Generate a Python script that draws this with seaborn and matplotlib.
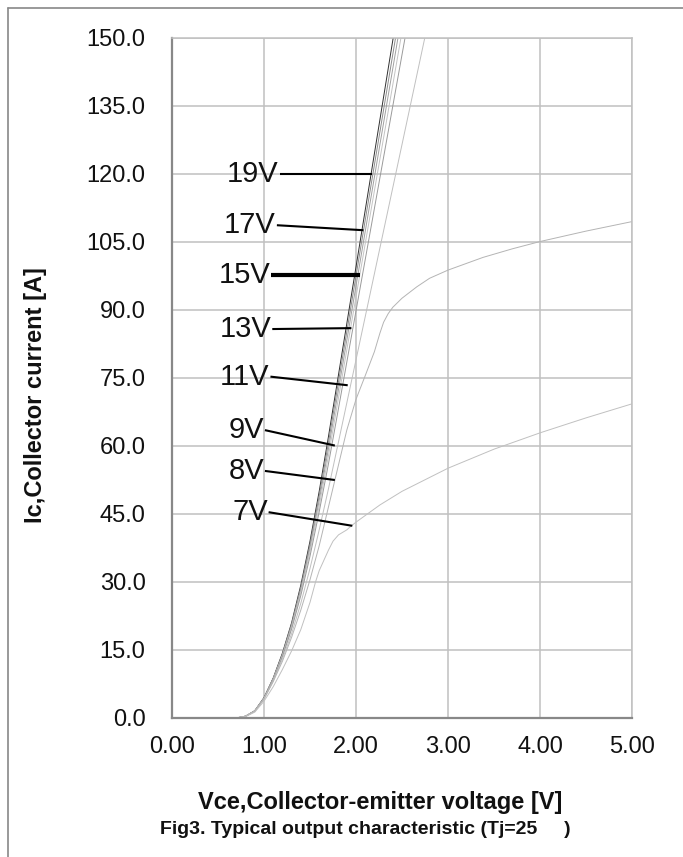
import matplotlib
matplotlib.use("Agg")
import matplotlib.pyplot as plt
import seaborn as sns
import pandas as pd
from matplotlib.lines import Line2D

# Output characteristic curves: Vce [V] -> Ic [A], one curve per gate voltage
vce_steep = [0.70, 0.80, 0.90, 1.00, 1.10, 1.20, 1.30, 1.40, 1.50, 1.60,
             1.70, 1.80, 1.90, 2.00, 2.10, 2.20, 2.30, 2.40, 2.50, 2.60,
             2.70, 2.80]
ic_19v = [0, 0.4, 1.6, 4.5, 8.8, 14.3, 21.0, 29.3, 39.0, 50.0, 62.0, 74.5,
          87.0, 99.5, 112.0, 124.5, 137.0, 149.5, 162.0]
ic_17v = [0, 0.4, 1.6, 4.4, 8.7, 14.1, 20.7, 28.8, 38.3, 49.0, 60.7, 73.0,
          85.2, 97.5, 109.8, 122.0, 134.2, 146.4, 158.6]
ic_15v = [0, 0.4, 1.6, 4.4, 8.6, 13.9, 20.4, 28.3, 37.5, 48.0, 59.3, 71.3,
          83.3, 95.3, 107.3, 119.3, 131.3, 143.3, 155.3]
ic_13v = [0, 0.4, 1.5, 4.3, 8.5, 13.7, 20.0, 27.7, 36.7, 46.8, 57.8, 69.5,
          81.2, 92.9, 104.6, 116.3, 128.0, 139.7, 151.4]
ic_11v = [0, 0.4, 1.5, 4.3, 8.4, 13.5, 19.6, 27.0, 35.7, 45.5, 56.0, 67.2,
          78.5, 89.8, 101.1, 112.4, 123.7, 135.0, 146.3, 157.6]
ic_9v = [0, 0.4, 1.5, 4.2, 8.2, 13.0, 18.6, 25.3, 33.0, 41.5, 50.5, 60.0,
         69.5, 79.0, 88.5, 98.0, 107.5, 117.0, 126.5, 136.0, 145.5, 155.0]

vce_8v = [0.70, 0.80, 0.90, 1.00, 1.10, 1.20, 1.30, 1.40, 1.50, 1.60, 1.70,
          1.80, 1.90, 2.00, 2.10, 2.20, 2.26, 2.30, 2.35, 2.40, 2.50, 2.66,
          2.80, 3.00, 3.38, 3.70, 4.00, 4.50, 5.00]
ic_8v = [0, 0.4, 1.5, 4.2, 8.0, 12.5, 17.8, 23.8, 30.5, 38.0, 46.5, 55.0,
         63.5, 70.3, 75.5, 80.8, 84.9, 87.3, 89.2, 90.6, 92.6, 95.1, 97.0,
         98.8, 101.6, 103.5, 105.1, 107.4, 109.5]

vce_7v = [0.70, 0.80, 0.90, 1.00, 1.10, 1.20, 1.30, 1.40, 1.50, 1.56, 1.60,
          1.70, 1.75, 1.81, 1.90, 1.95, 2.00, 2.26, 2.50, 3.00, 3.50, 4.00,
          4.50, 5.00]
ic_7v = [0, 0.3, 1.3, 3.7, 6.9, 10.7, 14.8, 19.5, 25.5, 30.0, 32.5, 37.0,
         39.0, 40.4, 41.5, 42.4, 43.2, 47.0, 50.0, 55.1, 59.3, 62.9, 66.2,
         69.3]

gate_labels = ["19V", "17V", "15V", "13V", "11V", "9V", "8V", "7V"]
curves = {
    "19V": (vce_steep, ic_19v),
    "17V": (vce_steep, ic_17v),
    "15V": (vce_steep, ic_15v),
    "13V": (vce_steep, ic_13v),
    "11V": (vce_steep, ic_11v),
    "9V": (vce_steep, ic_9v),
    "8V": (vce_8v, ic_8v),
    "7V": (vce_7v, ic_7v),
}

# Callout anchors: (label Vce, label Ic, pointer Vce, pointer Ic)
callouts = {
    "19V": (1.17, 120.0, 2.17, 120.0),
    "17V": (1.14, 108.7, 2.08, 107.6),
    "15V": (1.08, 97.7, 2.04, 97.7),
    "13V": (1.09, 85.8, 1.95, 86.0),
    "11V": (1.07, 75.3, 1.91, 73.4),
    "9V": (1.01, 63.5, 1.77, 60.1),
    "8V": (1.01, 54.5, 1.77, 52.5),
    "7V": (1.05, 45.4, 1.96, 42.4),
}

x_ticks = [0, 1, 2, 3, 4, 5]
y_ticks = [0, 15, 30, 45, 60, 75, 90, 105, 120, 135, 150]

rows = []
for name in gate_labels:
    xs, ys = curves[name]
    for xv, yv in zip(xs, ys):
        rows.append({"Vge": name, "Vce": xv, "Ic": yv})
df = pd.DataFrame(rows)

sns.set_theme(style="white")
plt.rcParams["font.family"] = ["Liberation Sans", "DejaVu Sans"]

fig = plt.figure(figsize=(6.83, 8.57), dpi=100, facecolor="white")
ax = fig.add_axes([172 / 683, 1 - 718 / 857, 460 / 683, 680 / 857])

line_colors = {
    "19V": "#303030", "17V": "#8c8c8c", "15V": "#a0a0a0", "13V": "#c4c4c4",
    "11V": "#9a9a9a", "9V": "#c0c0c0", "8V": "#b4b4b4", "7V": "#c0c0c0",
}
sns.lineplot(data=df, x="Vce", y="Ic", hue="Vge", hue_order=gate_labels,
             palette=line_colors, linewidth=0.7, legend=False, ax=ax,
             estimator=None, sort=False)
ax.set_xlabel("")
ax.set_ylabel("")

ax.set_xlim(0, 5)
ax.set_ylim(0, 150)
ax.set_xticks(x_ticks)
ax.set_yticks(y_ticks)
ax.set_xticklabels([f"{v:.2f}" for v in x_ticks])
ax.set_yticklabels([f"{v:.1f}" for v in y_ticks])
ax.grid(True, color="#c0c0c0", linewidth=1.1)
ax.set_axisbelow(True)
for side in ["top", "right"]:
    ax.spines[side].set_color("#c0c0c0")
    ax.spines[side].set_linewidth(1.1)
for side in ["left", "bottom"]:
    ax.spines[side].set_color("#888888")
    ax.spines[side].set_linewidth(1.6)
ax.tick_params(axis="both", which="major", direction="out", length=5,
               width=1.2, color="#888888", labelsize=17, labelcolor="#111111")
ax.tick_params(axis="y", pad=14)
ax.tick_params(axis="x", pad=8)

for name in gate_labels:
    lx, ly, px, py = callouts[name]
    lw = 3.0 if name == "15V" else 1.5
    ax.plot([lx, px], [ly, py], color="black", linewidth=lw,
            solid_capstyle="butt", zorder=5)
    ax.text(lx - 0.01, ly, name, ha="right", va="center", fontsize=21,
            color="#111111", zorder=6)

fig.text(36 / 683, 1 - 395 / 857, "Ic,Collector current [A]", rotation=90,
         ha="center", va="center", fontsize=17, fontweight="bold",
         color="#111111")
fig.text(380 / 683, 1 - 803 / 857, "Vce,Collector-emitter voltage [V]",
         ha="center", va="center", fontsize=17, fontweight="bold",
         color="#111111")
fig.text(365 / 683, 1 - 829 / 857, "Fig3. Typical output characteristic (Tj=25     )",
         ha="center", va="center", fontsize=14, fontweight="bold",
         color="#111111")

# Outer frame of the figure panel
fig.add_artist(Line2D([8 / 683, 8 / 683], [0, 1 - 8 / 857], color="#888888",
                      linewidth=1.2, transform=fig.transFigure))
fig.add_artist(Line2D([8 / 683, 1], [1 - 8 / 857, 1 - 8 / 857], color="#888888",
                      linewidth=1.2, transform=fig.transFigure))

fig.savefig("out.png", dpi=100, facecolor="white")
